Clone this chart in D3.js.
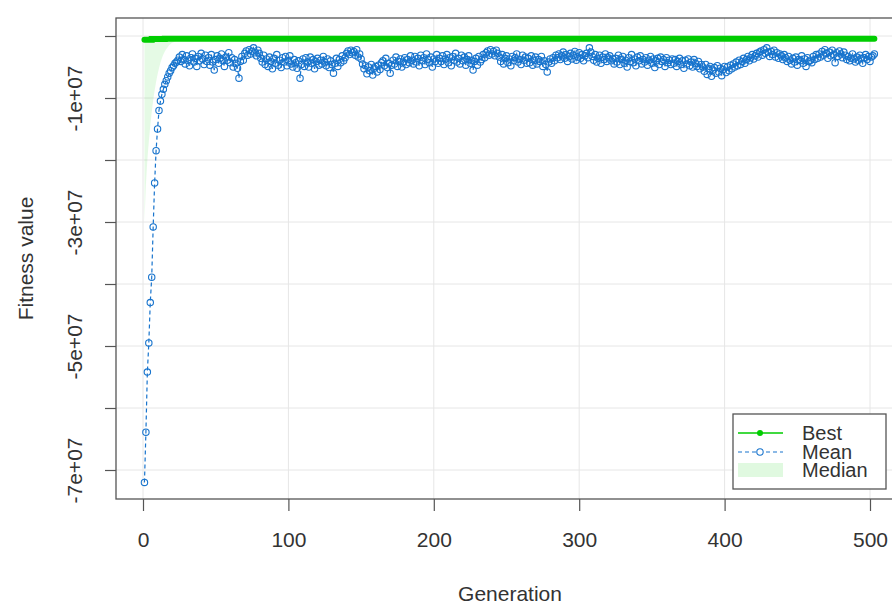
<!DOCTYPE html>
<html>
<head>
<meta charset="utf-8">
<script src="https://cdn.jsdelivr.net/npm/d3@7"></script>
<style>
body { margin: 0; background: #fff; }
text { font-family: "Liberation Sans", Arial, sans-serif; fill: #333; }
</style>
</head>
<body>
<div id="chart"></div>
<script>
var width = 892;
var height = 608;

var xTicks = [0, 100, 200, 300, 400, 500];
var yTicks = [0, -1e7, -2e7, -3e7, -4e7, -5e7, -6e7, -7e7];
var yTickLabels = ["", "-1e+07", "", "-3e+07", "", "-5e+07", "", "-7e+07"];
var seriesNames = ["Best", "Mean", "Median"];

// fitness values in millions, one per generation
var mean = [
  -72.0, -63.9, -54.2, -49.5, -43.0, -38.9, -30.8, -23.7, -18.5, -15.0, -12.0, -10.5, -9.4, -8.6, -7.8, -7.2, -6.6, -6.0, -5.6, -5.1, -4.8, -4.4, -4.2, -3.9,
  -3.4, -4.1, -3.0, -3.8, -4.5, -3.2, -3.9, -4.8, -3.5, -2.9, -4.2, -3.6, -4.9, -3.3, -4.0, -2.8, -3.7, -4.6, -3.1, -4.1,
  -3.5, -4.7, -3.0, -4.2, -5.5, -3.8, -3.2, -4.4, -3.6, -2.9, -4.0, -4.9, -3.4, -3.9, -2.7, -4.3, -3.5, -5.0, -3.8, -4.4,
  -5.2, -6.8, -4.1, -3.3, -3.9, -2.8, -2.4, -3.1, -2.2, -2.9, -2.5, -1.9, -2.7, -3.2, -2.3, -2.8, -3.6, -4.2, -3.1, -4.6,
  -3.7, -4.9, -3.4, -4.1, -5.3, -3.6, -4.4, -3.0, -4.7, -3.9, -5.1, -3.5, -4.2, -3.3, -4.8, -4.0, -3.2, -4.5, -5.0, -3.8,
  -4.3, -5.2, -4.0, -6.8, -4.6, -3.7, -4.9, -3.5, -4.2, -5.0, -3.4, -4.4, -3.8, -5.3, -4.1, -3.6, -4.7, -3.9, -4.5, -3.3,
  -4.2, -4.8, -3.7, -5.1, -4.0, -4.6, -6.0, -4.4, -3.6, -4.9, -3.8, -4.3, -3.2, -4.0, -3.5, -2.8, -2.4, -3.0, -2.3, -2.7,
  -2.5, -3.1, -2.2, -3.4, -2.9, -3.7, -4.5, -5.3, -4.8, -6.1, -5.0, -5.6, -4.6, -6.3, -5.2, -4.9, -5.8, -4.7, -5.4, -4.3,
  -4.0, -4.8, -3.6, -5.1, -4.4, -6.0, -4.7, -3.9, -4.5, -3.4, -4.9, -4.1, -3.7, -5.0, -4.2, -3.5, -4.6, -3.8, -4.3, -3.2,
  -3.9, -4.5, -3.3, -4.2, -3.6, -4.8, -3.1, -4.0, -3.5, -4.6, -2.9, -3.8, -4.3, -3.4, -5.0, -3.7, -4.1, -3.0, -4.4, -3.6,
  -4.1, -3.2, -4.6, -3.7, -3.0, -4.3, -3.5, -4.8, -3.3, -3.9, -2.8, -4.2, -3.6, -4.5, -3.1, -4.0, -3.4, -4.7, -3.8, -3.2,
  -4.4, -3.9, -5.5, -4.1, -3.6, -4.7, -3.3, -4.2, -3.8, -3.0, -3.5, -2.7, -2.4, -3.1, -2.2, -2.9, -2.5, -3.2, -2.3, -2.8,
  -3.4, -4.1, -3.0, -4.5, -3.6, -3.2, -4.3, -3.7, -4.8, -3.3, -4.0, -3.5, -2.9, -4.2, -3.8, -4.6, -3.1, -3.9, -3.4, -4.4,
  -3.6, -4.3, -3.2, -4.7, -3.9, -3.4, -4.5, -3.8, -4.1, -3.3, -4.9, -4.0, -4.6, -5.8, -4.2, -3.7, -4.4, -3.5, -4.0, -3.1,
  -3.5, -2.9, -3.8, -3.2, -2.6, -3.6, -3.0, -4.1, -3.3, -2.8, -3.7, -3.1, -2.5, -3.9, -3.4, -2.7, -3.6, -3.0, -4.0, -3.2,
  -2.8, -3.5, -1.9, -2.6, -3.3, -3.9, -3.0, -4.2, -3.6, -3.1, -4.4, -3.4, -3.8, -2.9, -4.1, -3.5, -3.2, -4.0, -3.7, -4.5,
  -3.6, -4.2, -3.1, -4.6, -3.8, -3.3, -4.4, -3.9, -5.0, -3.5, -4.1, -3.0, -4.3, -3.7, -4.8, -3.4, -4.0, -3.2, -4.5, -3.8,
  -4.2, -3.5, -4.7, -3.9, -3.3, -4.4, -3.7, -5.1, -4.0, -3.6, -4.6, -3.4, -4.1, -3.8, -4.9, -3.5, -4.3, -3.9, -4.6, -3.7,
  -4.4, -3.8, -4.9, -4.1, -3.6, -4.6, -4.0, -5.2, -3.9, -4.5, -3.7, -4.8, -4.2, -5.0, -3.8, -4.4, -4.9, -4.1, -5.3, -4.6,
  -5.0, -5.7, -4.6, -6.2, -5.3, -4.9, -6.5, -5.5, -5.1, -6.0, -4.8, -5.8, -5.2, -6.4, -5.4, -4.9, -5.9, -5.0, -5.6, -4.7,
  -5.3, -4.5, -5.0, -4.2, -4.8, -3.9, -4.6, -4.1, -3.6, -4.4, -3.8, -3.3, -4.0, -3.5, -3.0, -3.7, -3.2, -2.8, -3.4, -2.6,
  -2.4, -3.1, -2.2, -2.8, -1.9, -2.6, -3.3, -2.5, -3.0, -2.3, -3.4, -2.7, -3.6, -2.9, -3.2, -3.8, -3.0, -3.5, -4.1, -3.3,
  -3.9, -4.5, -3.6, -4.2, -3.4, -4.7, -3.8, -4.0, -3.2, -4.4, -3.7, -4.9, -3.5, -4.1, -3.9, -4.3, -3.3, -3.8, -3.0, -3.6,
  -2.9, -3.4, -2.5, -3.1, -2.2, -2.8, -3.6, -2.6, -3.2, -2.3, -3.0, -4.3, -2.7, -3.3, -2.4, -2.9, -3.5, -2.6, -3.1, -3.8,
  -3.3, -4.0, -3.6, -2.9, -3.7, -4.2, -3.4, -3.9, -3.1, -3.6, -4.4, -3.5, -3.0, -3.8, -3.3, -4.1, -3.4, -3.2, -2.9
];

// median for the early generations (later it sits under the best line)
var median = [
  -30.0, -24.0, -20.0, -17.0, -14.5, -12.3, -10.4, -8.8, -7.4, -6.2, -5.2, -4.3,
  -3.6, -3.0, -2.5, -2.1, -1.8, -1.5, -1.3, -1.1, -1.0, -0.9, -0.8, -0.7
];

// best value: generation where it changes, and the new value
var bestGen = [1, 6, 15];
var best = [-0.6, -0.5, -0.45];

var lastGen = mean.length;

var svg = d3.select("#chart")
  .append("svg")
  .attr("width", width)
  .attr("height", height);

// plot frame
var frameL = 116, frameT = 18, frameR = 904, frameB = 499;

var x = d3.scaleLinear().domain([0, 500]).range([143, 870]);
var y = d3.scaleLinear().domain([0, -7e7]).range([36, 470]);

svg.append("clipPath").attr("id", "clip")
  .append("rect")
    .attr("x", frameL).attr("y", frameT)
    .attr("width", frameR - frameL).attr("height", frameB - frameT);

// grid
svg.append("g").selectAll("line")
  .data(xTicks)
  .enter()
  .append("line")
    .attr("x1", function(d) { return x(d); })
    .attr("x2", function(d) { return x(d); })
    .attr("y1", frameT).attr("y2", frameB)
    .attr("stroke", "#e6e6e6");

svg.append("g").selectAll("line")
  .data(yTicks)
  .enter()
  .append("line")
    .attr("x1", frameL).attr("x2", frameR)
    .attr("y1", function(d) { return y(d); })
    .attr("y2", function(d) { return y(d); })
    .attr("stroke", "#e6e6e6");

var plot = svg.append("g").attr("clip-path", "url(#clip)");

var bestAt = function(g) {
  var v = best[0];
  for (var i = 0; i < bestGen.length; i++) {
    if (g >= bestGen[i]) v = best[i];
  }
  return v;
};

// median band between median and best
var area = d3.area()
  .x(function(d, i) { return x(i + 1); })
  .y0(function(d, i) { return y(bestAt(i + 1) * 1e6); })
  .y1(function(d) { return y(d * 1e6); });

plot.append("path")
  .datum(median)
  .attr("d", area)
  .attr("fill", "#00cd00")
  .attr("fill-opacity", 0.1);

// best line
var bestPts = bestGen.map(function(g, i) { return [g, best[i]]; });
bestPts.push([lastGen, best[best.length - 1]]);

plot.append("path")
  .datum(bestPts)
  .attr("d", d3.line()
    .curve(d3.curveStepAfter)
    .x(function(d) { return x(d[0]); })
    .y(function(d) { return y(d[1] * 1e6); }))
  .attr("fill", "none")
  .attr("stroke", "#00cd00")
  .attr("stroke-width", 6)
  .attr("stroke-linecap", "round");

// mean line + open circles
plot.append("path")
  .datum(mean)
  .attr("d", d3.line()
    .x(function(d, i) { return x(i + 1); })
    .y(function(d) { return y(d * 1e6); }))
  .attr("fill", "none")
  .attr("stroke", "#1874cd")
  .attr("stroke-width", 1.2)
  .attr("stroke-dasharray", "4,3");

plot.append("g").selectAll("circle")
  .data(mean)
  .enter()
  .append("circle")
    .attr("cx", function(d, i) { return x(i + 1); })
    .attr("cy", function(d) { return y(d * 1e6); })
    .attr("r", 3.2)
    .attr("fill", "none")
    .attr("stroke", "#1874cd")
    .attr("stroke-width", 1.1);

// box
svg.append("rect")
  .attr("x", frameL).attr("y", frameT)
  .attr("width", frameR - frameL).attr("height", frameB - frameT)
  .attr("fill", "none")
  .attr("stroke", "#555")
  .attr("stroke-width", 1.3);

// axes
var xAxis = svg.append("g")
  .attr("transform", "translate(0," + frameB + ")")
  .call(d3.axisBottom(x).tickValues(xTicks).tickSize(12).tickSizeOuter(0).tickFormat(d3.format("d")));
xAxis.select(".domain").remove();
xAxis.selectAll("line").attr("stroke", "#555").attr("stroke-width", 1.2);
xAxis.selectAll("text")
  .attr("y", 48).attr("dy", 0)
  .attr("font-size", "21px")
  .attr("fill", "#333");

var yAxis = svg.append("g")
  .attr("transform", "translate(" + frameL + ",0)")
  .call(d3.axisLeft(y).tickValues(yTicks).tickSize(11).tickSizeOuter(0)
    .tickFormat(function(d, i) { return yTickLabels[i]; }));
yAxis.select(".domain").remove();
yAxis.selectAll("line").attr("stroke", "#555").attr("stroke-width", 1.2);
yAxis.selectAll("text")
  .attr("x", 0).attr("dy", 0)
  .attr("text-anchor", "middle")
  .attr("transform", "translate(-34,0) rotate(-90)")
  .attr("font-size", "21px")
  .attr("fill", "#333");

// axis titles
svg.append("text")
  .text("Generation")
  .attr("x", (frameL + frameR) / 2)
  .attr("y", 601)
  .attr("text-anchor", "middle")
  .attr("font-size", "21px");

svg.append("text")
  .text("Fitness value")
  .attr("transform", "translate(33," + (frameT + frameB) / 2 + ") rotate(-90)")
  .attr("text-anchor", "middle")
  .attr("font-size", "21px");

// legend
var legend = svg.append("g");
legend.append("rect")
  .attr("x", 733).attr("y", 414)
  .attr("width", 153).attr("height", 75)
  .attr("fill", "#fff")
  .attr("stroke", "#555")
  .attr("stroke-width", 1.3);

var rowY = [433, 452, 470];

legend.append("rect")
  .attr("x", 738).attr("y", rowY[2] - 7)
  .attr("width", 45).attr("height", 14)
  .attr("fill", "#00cd00")
  .attr("fill-opacity", 0.12);

legend.append("line")
  .attr("x1", 738).attr("x2", 783)
  .attr("y1", rowY[0]).attr("y2", rowY[0])
  .attr("stroke", "#00cd00").attr("stroke-width", 1.5);
legend.append("circle")
  .attr("cx", 760).attr("cy", rowY[0]).attr("r", 3)
  .attr("fill", "#00cd00");

legend.append("line")
  .attr("x1", 738).attr("x2", 783)
  .attr("y1", rowY[1]).attr("y2", rowY[1])
  .attr("stroke", "#1874cd").attr("stroke-width", 1.2)
  .attr("stroke-dasharray", "4,3");
legend.append("circle")
  .attr("cx", 760).attr("cy", rowY[1]).attr("r", 3.2)
  .attr("fill", "#fff")
  .attr("stroke", "#1874cd").attr("stroke-width", 1.1);

legend.selectAll("text.lab")
  .data(seriesNames)
  .enter()
  .append("text")
  .attr("class", "lab")
  .text(function(d) { return d; })
    .attr("x", 802)
    .attr("y", function(d, i) { return rowY[i] + 7; })
    .attr("font-size", "20px")
    .attr("fill", "#333");
</script>
</body>
</html>
